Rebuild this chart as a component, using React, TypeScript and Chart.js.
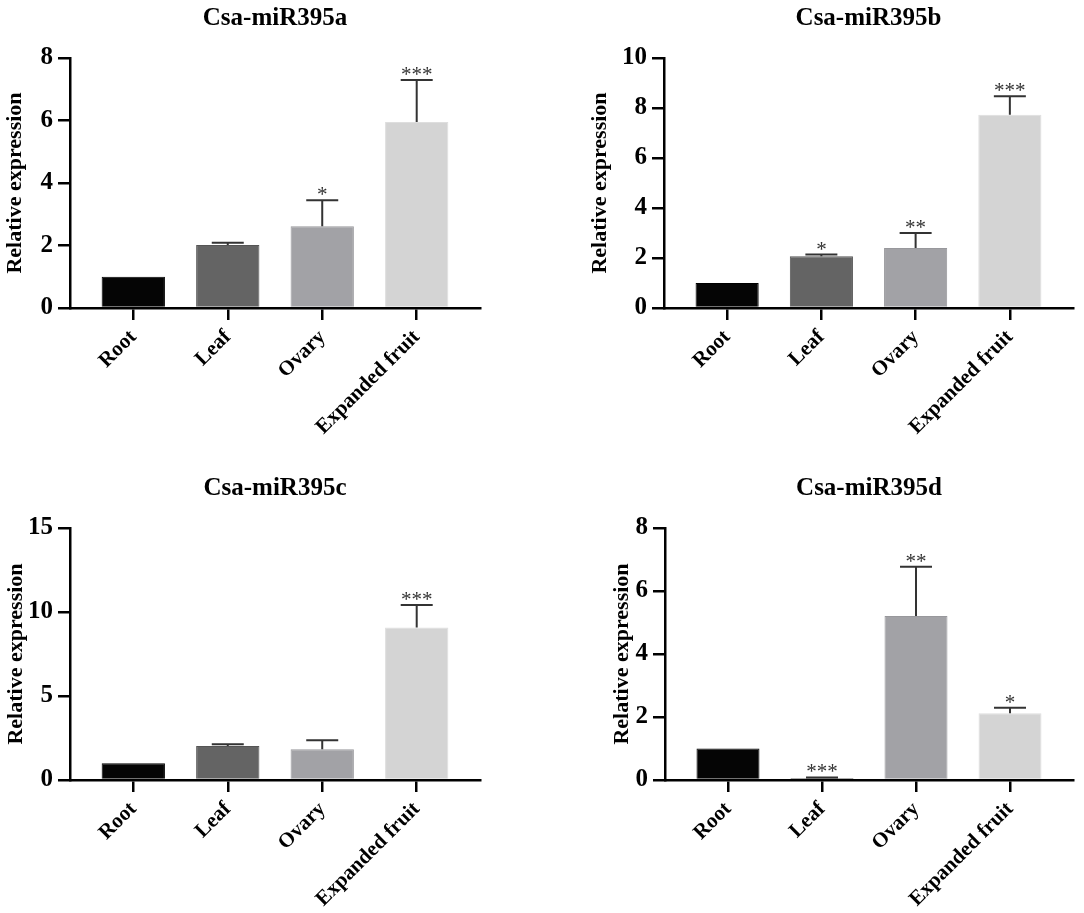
import React, { useEffect, useRef } from 'react';
import { Chart, registerables } from 'chart.js';

Chart.register(...registerables);

const FONT = '"Liberation Serif", "Times New Roman", serif';

const categories = ['Root', 'Leaf', 'Ovary', 'Expanded fruit'];
const barColors = ['#050505', '#646464', '#a2a2a6', '#d4d4d4'];
const barBorders = ['#000000', '#555555', '#98989c', '#dedede'];

const titleA = 'Csa-miR395a';
const valuesA = [1.0, 2.02, 2.62, 5.95];
const errorsA = [0, 0.07, 0.83, 1.35];
const starsA = ['', '', '*', '***'];
const ticksA = { max: 8, step: 2 };

const titleB = 'Csa-miR395b';
const valuesB = [1.0, 2.07, 2.4, 7.73];
const errorsB = [0, 0.07, 0.6, 0.74];
const starsB = ['', '*', '**', '***'];
const ticksB = { max: 10, step: 2 };

const titleC = 'Csa-miR395c';
const valuesC = [1.0, 2.03, 1.83, 9.08];
const errorsC = [0, 0.1, 0.53, 1.33];
const starsC = ['', '', '', '***'];
const ticksC = { max: 15, step: 5 };

const titleD = 'Csa-miR395d';
const valuesD = [1.0, 0.06, 5.21, 2.12];
const errorsD = [0, 0.02, 1.56, 0.17];
const starsD = ['', '***', '**', '*'];
const ticksD = { max: 8, step: 2 };

const errorBarPlugin = {
  id: 'errorBars',
  afterDatasetsDraw(chart: any, _args: any, opts: any) {
    const { ctx } = chart;
    const meta = chart.getDatasetMeta(0);
    const yScale = chart.scales.y;
    const data = chart.data.datasets[0].data;
    ctx.save();
    meta.data.forEach((bar: any, i: number) => {
      const v = data[i].y;
      const e = opts.errors[i] || 0;
      const x = bar.x;
      const yTop = yScale.getPixelForValue(v + e);
      if (e > 0) {
        const yBar = yScale.getPixelForValue(v);
        ctx.strokeStyle = '#333333';
        ctx.lineWidth = 2;
        ctx.beginPath();
        ctx.moveTo(x, yBar);
        ctx.lineTo(x, yTop);
        ctx.moveTo(x - 16, yTop);
        ctx.lineTo(x + 16, yTop);
        ctx.stroke();
      }
      const s = opts.stars[i];
      if (s) {
        ctx.fillStyle = '#333333';
        ctx.font = `21px ${FONT}`;
        ctx.textAlign = 'center';
        ctx.textBaseline = 'alphabetic';
        ctx.fillText(s, x, yTop + 1);
      }
    });
    ctx.restore();
  },
};

type PanelProps = {
  left: number;
  top: number;
  width: number;
  height: number;
  chartLeft: number;
  chartRight: number;
  chartBottom: number;
  yTitlePad: number;
  title: string;
  values: number[];
  errors: number[];
  stars: string[];
  yTicks: { max: number; step: number };
};

function Panel(p: PanelProps) {
  const ref = useRef<HTMLCanvasElement | null>(null);
  useEffect(() => {
    if (!ref.current) return;
    const chart = new Chart(ref.current, {
      type: 'bar',
      data: {
        datasets: [
          {
            data: p.values.map((v, i) => ({ x: i, y: v })),
            backgroundColor: barColors,
            borderColor: barBorders,
            borderWidth: 1,
            categoryPercentage: 1,
            barPercentage: 0.67,
          },
        ],
      },
      plugins: [errorBarPlugin],
      options: {
        responsive: false,
        animation: false,
        devicePixelRatio: 1,
        layout: { padding: { left: 0, top: 0, right: p.width - p.chartRight, bottom: 0 } },
        plugins: {
          legend: { display: false },
          tooltip: { enabled: false },
          title: {
            display: true,
            text: p.title,
            fullSize: false,
            color: '#000',
            font: { family: FONT, size: 25, weight: 'bold' },
            padding: { top: 4, bottom: 24 },
          },
          errorBars: { errors: p.errors, stars: p.stars },
        } as any,
        scales: {
          x: {
            type: 'linear',
            offset: false,
            min: -0.67,
            max: 3.67,
            afterBuildTicks: (scale: any) => {
              scale.ticks = categories.map((_, i) => ({ value: i }));
            },
            afterFit: (scale: any) => {
              scale.height = p.height - p.chartBottom;
              scale.paddingLeft = 0;
              scale.paddingRight = 0;
            },
            grid: {
              offset: false,
              drawOnChartArea: false,
              drawTicks: true,
              tickLength: 12,
              color: '#000',
              lineWidth: 2.5,
            },
            border: { display: true, color: '#000', width: 2.5 },
            ticks: {
              autoSkip: false,
              minRotation: 45,
              maxRotation: 45,
              padding: 5,
              color: '#000',
              font: { family: FONT, size: 21, weight: 'bold' },
              callback: (v: any) => categories[v] ?? '',
            },
          },
          y: {
            min: 0,
            max: p.yTicks.max,
            afterFit: (scale: any) => {
              scale.width = p.chartLeft;
              scale.paddingTop = 0;
              scale.paddingBottom = 0;
            },
            grid: {
              drawOnChartArea: false,
              drawTicks: true,
              tickLength: 12,
              color: '#000',
              lineWidth: 2.5,
            },
            border: { display: true, color: '#000', width: 2.5 },
            ticks: {
              stepSize: p.yTicks.step,
              padding: 5,
              color: '#000',
              font: { family: FONT, size: 25, weight: 'bold' },
            },
            title: {
              display: true,
              text: 'Relative expression',
              color: '#000',
              font: { family: FONT, size: 22, weight: 'bold' },
              padding: { top: p.yTitlePad, bottom: 0 },
            },
          },
        },
      } as any,
    });
    return () => chart.destroy();
  }, []);
  return (
    <canvas
      ref={ref}
      width={p.width}
      height={p.height}
      style={{ position: 'absolute', left: p.left, top: p.top, width: p.width, height: p.height }}
    />
  );
}

export default function App() {
  return (
    <div style={{ position: 'absolute', left: 0, top: 0, width: 1084, height: 913, background: '#fff', overflow: 'hidden' }}>
      <Panel left={0} top={0} width={540} height={460} chartLeft={70} chartRight={480} chartBottom={308} yTitlePad={2}
        title={titleA} values={valuesA} errors={errorsA} stars={starsA} yTicks={ticksA} />
      <Panel left={560} top={0} width={524} height={460} chartLeft={104} chartRight={513} chartBottom={308} yTitlePad={27}
        title={titleB} values={valuesB} errors={errorsB} stars={starsB} yTicks={ticksB} />
      <Panel left={0} top={470} width={540} height={443} chartLeft={70} chartRight={480} chartBottom={310} yTitlePad={3}
        title={titleC} values={valuesC} errors={errorsC} stars={starsC} yTicks={ticksC} />
      <Panel left={560} top={470} width={524} height={443} chartLeft={105} chartRight={513} chartBottom={310} yTitlePad={49}
        title={titleD} values={valuesD} errors={errorsD} stars={starsD} yTicks={ticksD} />
    </div>
  );
}
